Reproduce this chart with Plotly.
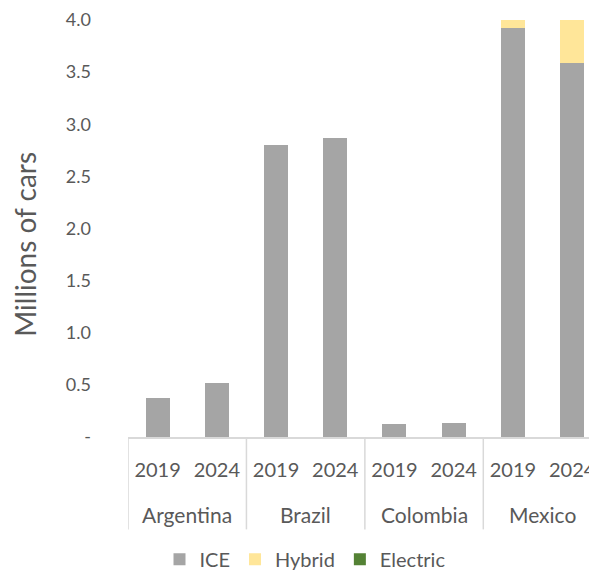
import plotly.graph_objects as go

countries = ["Argentina", "Brazil", "Colombia", "Mexico"]
years = ["2019", "2024"]
ice = [0.37, 0.52, 2.80, 2.87, 0.12, 0.13, 3.92, 3.59]
hybrid = [0.0, 0.0, 0.0, 0.0, 0.0, 0.0, 0.08, 0.41]
electric = [0.0, 0.0, 0.0, 0.0, 0.0, 0.0, 0.0, 0.002]

y_ticks = [0, 0.5, 1.0, 1.5, 2.0, 2.5, 3.0, 3.5, 4.0]
y_ticktext = ["-", "0.5", "1.0", "1.5", "2.0", "2.5", "3.0", "3.5", "4.0"]

FONT = "Lato"
TXT = "#595959"
LINE = "#D9D9D9"

keys = [f"{c} {y}" for c in countries for y in years]
year_labels = [y for c in countries for y in years]

fig = go.Figure()
fig.add_trace(go.Bar(x=keys, y=ice, name="ICE", marker=dict(color="#A5A5A5", line=dict(width=0))))
fig.add_trace(go.Bar(x=keys, y=hybrid, name="Hybrid", marker=dict(color="#FFE699", line=dict(width=0))))
fig.add_trace(go.Bar(x=keys, y=electric, name="Electric", marker=dict(color="#548235", line=dict(width=0))))

OFF = 8  # page body margin
W, H = 597 - OFF, 571 - OFF
L, R, T = 128 - OFF, 0, 20 - OFF
B = H - (437.5 - OFF)
ph = H - T - B
pw = W - L - R

def py(page_pix):
    return (H - B - (page_pix - OFF)) / ph

def px(page_pix):
    return (page_pix - OFF - L) / pw

annotations = []
shapes = []
n = len(years)
for i, c in enumerate(countries):
    annotations.append(dict(x=i * n + (n - 1) / 2, xref="x", y=py(515), yref="paper",
                            text=c, showarrow=False, xanchor="center", yanchor="middle",
                            font=dict(family=FONT, size=21, color=TXT)))
    shapes.append(dict(type="line", xref="x", x0=i * n - 0.5, x1=i * n - 0.5,
                       yref="paper", y0=0, y1=py(530), line=dict(color=LINE, width=1.5)))

annotations.append(dict(x=px(25), xref="paper", y=py(245), yref="paper",
                        text="Millions of cars", textangle=-90, showarrow=False,
                        xanchor="center", yanchor="middle",
                        font=dict(family=FONT, size=28, color=TXT)))

fig.update_layout(
    barmode="stack",
    bargap=0.595,
    width=W, height=H,
    margin=dict(l=L, r=R, t=T, b=B, autoexpand=False),
    plot_bgcolor="white", paper_bgcolor="white",
    font=dict(family=FONT, color=TXT, size=18),
    legend=dict(orientation="h", x=px(305), xanchor="center", y=py(560), yanchor="middle",
                font=dict(size=20, color=TXT), traceorder="normal", itemwidth=30),
    showlegend=True,
    annotations=annotations,
    shapes=shapes,
)
fig.update_xaxes(
    type="category",
    range=[-0.5, 7.42],
    tickvals=keys, ticktext=year_labels,
    showline=True, linecolor=LINE, linewidth=1.5,
    ticks="", tickfont=dict(size=20, color=TXT),
    ticklabelstandoff=14,
    showgrid=False, automargin=False,
)
fig.update_yaxes(
    range=[0, 4.0],
    tickvals=y_ticks, ticktext=y_ticktext,
    showgrid=False, showline=False, zeroline=False,
    tickfont=dict(size=18, color=TXT),
    ticklabelstandoff=36, automargin=False,
)

fig.write_html("out.html")
